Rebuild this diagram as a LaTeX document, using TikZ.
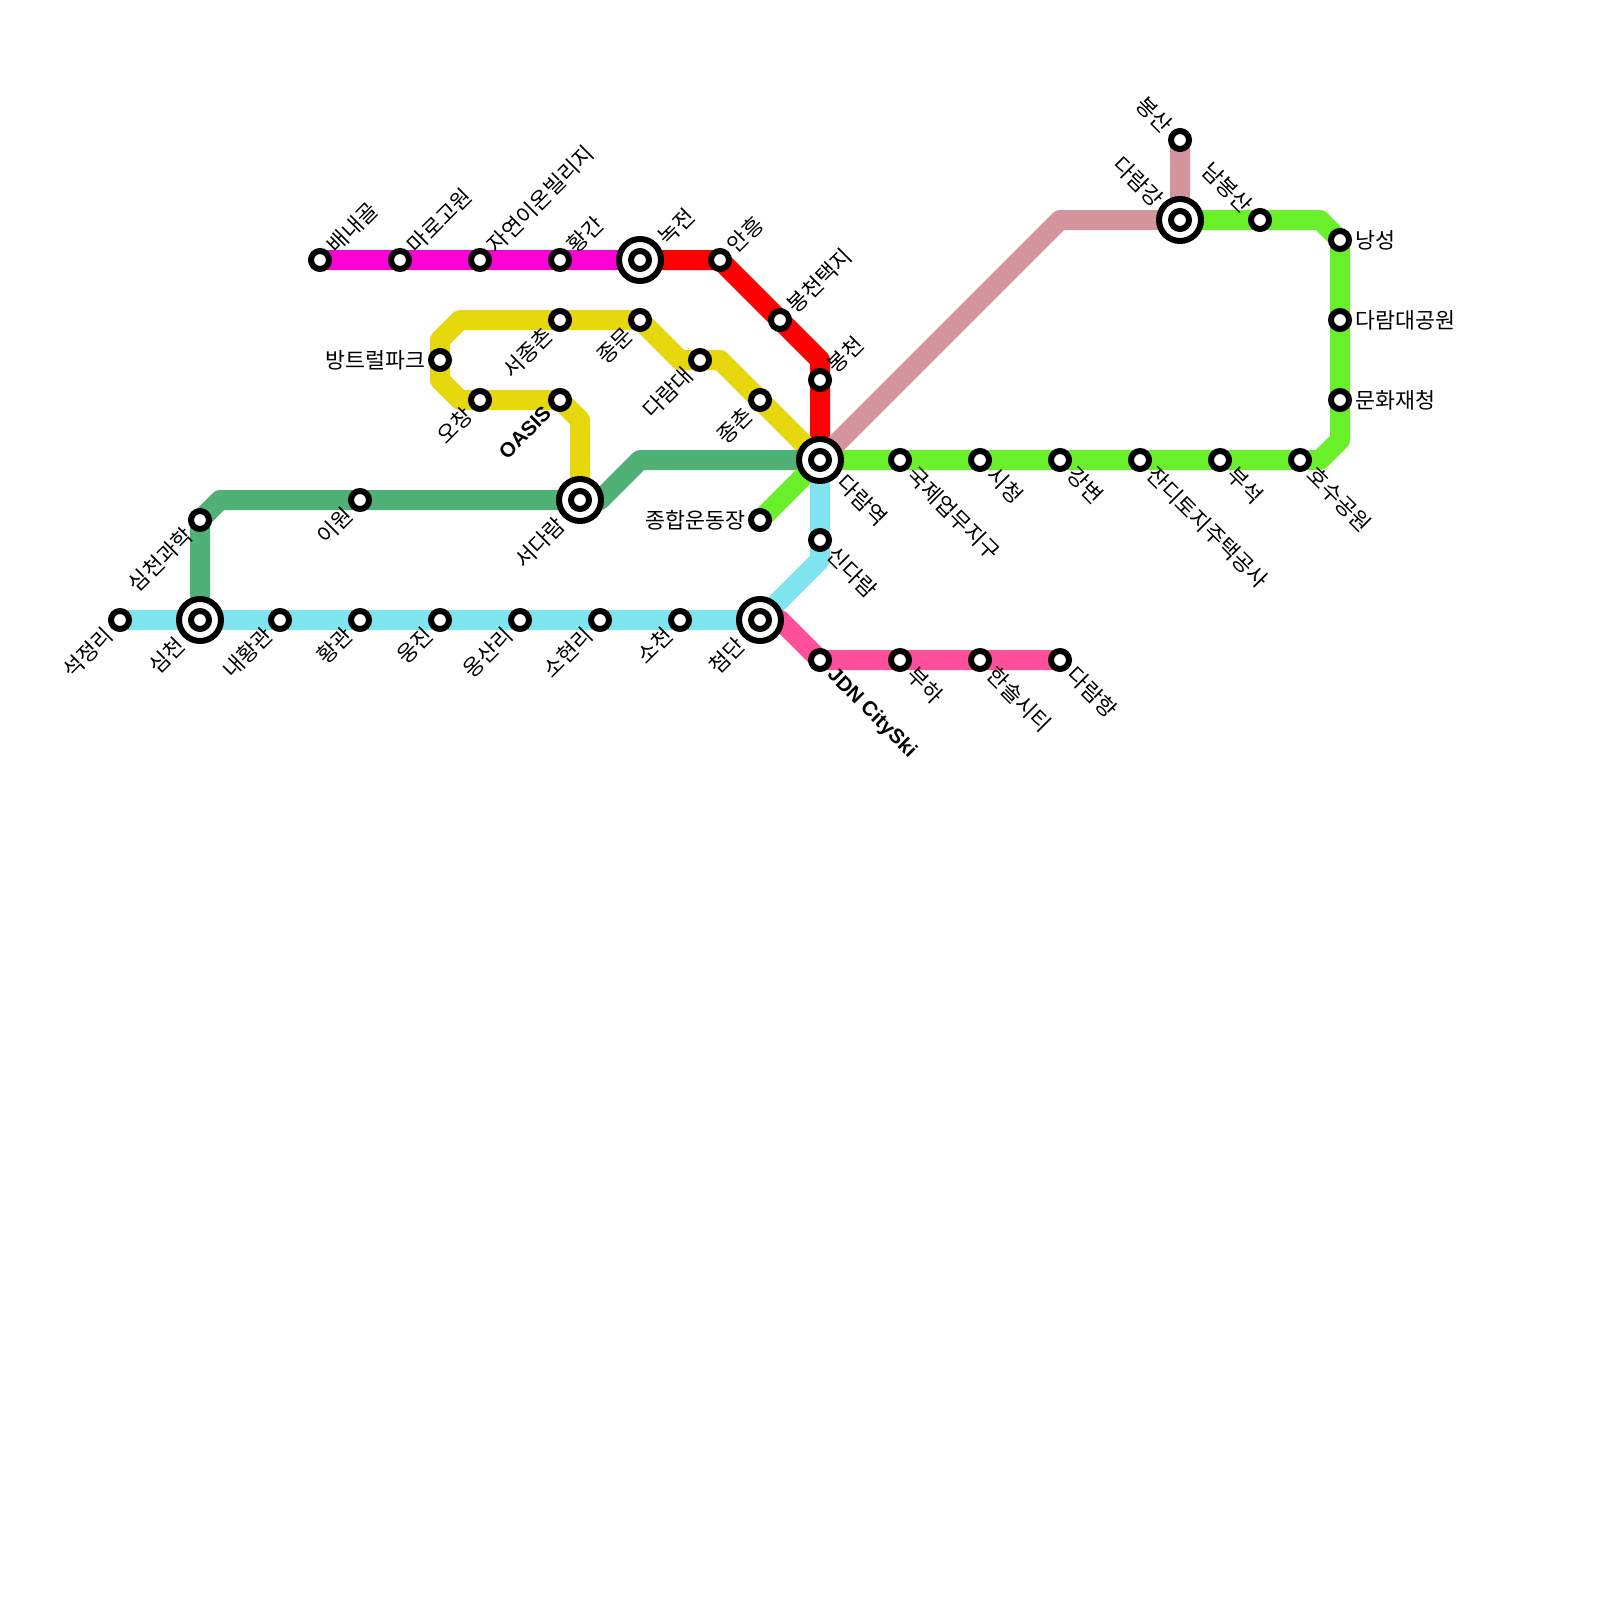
\documentclass[tikz,border=0pt]{standalone}
\usepackage{fontspec}
\setmainfont{Noto Sans CJK KR}
\newfontfamily\latinbold{Liberation Sans}
\newcommand{\boldlat}[1]{{\fontsize{10.25}{12}\selectfont\latinbold\bfseries #1}}
\pgfdeclarelayer{rails}
\pgfsetlayers{rails,main}
\tikzset{
  x=0.5pt,y=-0.5pt,
  rail/.style={line width=10pt,line join=round,line cap=butt},
  stop/.style={circle,draw=black,fill=white,line width=3pt,inner sep=0pt,outer sep=0pt,minimum size=9pt},
  hub/.style={circle,draw=black,fill=white,line width=3pt,inner sep=0pt,outer sep=0pt,minimum size=21pt},
  lbl/.style={font=\fontsize{10.85}{12}\selectfont,inner sep=0pt,text=black,text height=9.5pt,text depth=1.5pt},
  ur/.style={shift={(11,-11)},rotate=45,anchor=west},
  dr/.style={shift={(11,11)},rotate=-45,anchor=west},
  dl/.style={shift={(-11,11)},rotate=45,anchor=east},
  ul/.style={shift={(-11,-11)},rotate=-45,anchor=east},
  hur/.style={shift={(22,-19)},rotate=45,anchor=west},
  hdr/.style={shift={(21,19)},rotate=-45,anchor=west},
  hdl/.style={shift={(-19,21)},rotate=45,anchor=east},
  hul/.style={shift={(-20,-17)},rotate=-45,anchor=east},
  le/.style={shift={(-14,0)},anchor=east},
  ri/.style={shift={(15,0)},anchor=west},
  ldl/.style={shift={(-13,9)},rotate=45,anchor=east},
  ldr/.style={shift={(12,10)},rotate=-45,anchor=west},
}
\definecolor{cMag}{HTML}{FF00D4}
\definecolor{cRed}{HTML}{FF0000}
\definecolor{cYel}{HTML}{E6D80C}
\definecolor{cDkg}{HTML}{4FB176}
\definecolor{cLim}{HTML}{69F02A}
\definecolor{cRos}{HTML}{D4949E}
\definecolor{cCya}{HTML}{80E5F0}
\definecolor{cHot}{HTML}{FF4F9B}
\newcommand{\stn}[5]{\node[stop] (#1) at (#2,#3) {}; \node[lbl,#4] (#1t) at (#2,#3) {#5};}
\newcommand{\hubn}[5]{\node[hub] (#1) at (#2,#3) {}; \node[stop] (#1c) at (#2,#3) {}; \node[lbl,#4] (#1t) at (#2,#3) {#5};}
\begin{document}
\begin{tikzpicture}
\useasboundingbox (0,0) rectangle (1600,1600);
% stations
\stn{a1}{320}{260}{ur}{배내골}
\stn{a2}{400}{260}{ur}{마로고원}
\stn{a3}{480}{260}{ur}{자연이온빌리지}
\stn{a4}{560}{260}{ur}{황간}
\hubn{nj}{640}{260}{hur}{녹전}
\stn{r1}{720}{260}{ur}{안흥}
\stn{r2}{780}{320}{ur}{봉천택지}
\stn{r3}{820}{380}{ur}{봉천}
\hubn{dr}{820}{460}{hdr}{다람역}
\stn{y1}{560}{320}{dl}{서종촌}
\stn{y2}{640}{320}{dl}{종문}
\stn{y3}{700}{360}{dl}{다람대}
\stn{y4}{760}{400}{dl}{종촌}
\stn{y5}{440}{360}{le}{방트럴파크}
\stn{y6}{480}{400}{dl}{오창}
\stn{y7}{560}{400}{ldl}{\boldlat{OASIS}}
\hubn{sd}{580}{500}{hdl}{서다람}
\stn{g1}{360}{500}{dl}{이원}
\stn{g2}{200}{520}{dl}{심천과학}
\stn{l0}{760}{520}{le}{종합운동장}
\stn{l1}{900}{460}{dr}{국제업무지구}
\stn{l2}{980}{460}{dr}{시청}
\stn{l3}{1060}{460}{dr}{강변}
\stn{l4}{1140}{460}{dr}{잔디토지주택공사}
\stn{l5}{1220}{460}{dr}{부석}
\stn{l6}{1300}{460}{dr}{호수공원}
\stn{l7}{1340}{400}{ri}{문화재청}
\stn{l8}{1340}{320}{ri}{다람대공원}
\stn{l9}{1340}{240}{ri}{낭성}
\stn{l10}{1260}{220}{ul}{남봉산}
\hubn{dg}{1180}{220}{hul}{다람강}
\stn{p1}{1180}{140}{ul}{봉산}
\stn{c1}{120}{620}{dl}{석정리}
\hubn{sc}{200}{620}{hdl}{심천}
\stn{c2}{280}{620}{dl}{내황관}
\stn{c3}{360}{620}{dl}{황관}
\stn{c4}{440}{620}{dl}{웅진}
\stn{c5}{520}{620}{dl}{옹산리}
\stn{c6}{600}{620}{dl}{소현리}
\stn{c7}{680}{620}{dl}{소천}
\hubn{cd}{760}{620}{hdl}{첨단}
\stn{c8}{820}{540}{dr}{신다람}
\stn{h1}{820}{660}{ldr}{\boldlat{JDN CitySki}}
\stn{h2}{900}{660}{dr}{부하}
\stn{h3}{980}{660}{dr}{한솔시티}
\stn{h4}{1060}{660}{dr}{다람항}
% bends
\coordinate (bR) at (820,360);
\coordinate (bY1) at (680,360);
\coordinate (bY2) at (720,360);
\coordinate (bY3) at (460,320);
\coordinate (bY4) at (440,340);
\coordinate (bY5) at (440,380);
\coordinate (bY6) at (460,400);
\coordinate (bY7) at (580,420);
\coordinate (bG1) at (220,500);
\coordinate (bG2) at (600,500);
\coordinate (bG3) at (640,460);
\coordinate (bL1) at (1320,460);
\coordinate (bL2) at (1340,440);
\coordinate (bL3) at (1320,220);
\coordinate (bP) at (1060,220);
\coordinate (bC) at (820,560);
\coordinate (bH) at (780,620);
\begin{pgfonlayer}{rails}
\draw[rail,cMag] (a1.center) -- (nj.center);
\draw[rail,cRed] (nj.center) -- (r1.center) -- (bR) -- (dr.center);
\draw[rail,cYel] (sd.center) -- (bY7) -- (y7.center) -- (bY6) -- (bY5) -- (bY4) -- (bY3) -- (y2.center) -- (bY1) -- (bY2) -- (dr.center);
\draw[rail,cDkg] (sc.center) -- (g2.center) -- (bG1) -- (bG2) -- (bG3) -- (dr.center);
\draw[rail,cLim] (l0.center) -- (dr.center) -- (bL1) -- (bL2) -- (l9.center) -- (bL3) -- (dg.center);
\draw[rail,cRos] (dr.center) -- (bP) -- (dg.center) -- (p1.center);
\draw[rail,cCya] (c1.center) -- (cd.center) -- (bC) -- (dr.center);
\draw[rail,cHot] (cd.center) -- (bH) -- (h1.center) -- (h4.center);
\end{pgfonlayer}
\end{tikzpicture}
\end{document}
